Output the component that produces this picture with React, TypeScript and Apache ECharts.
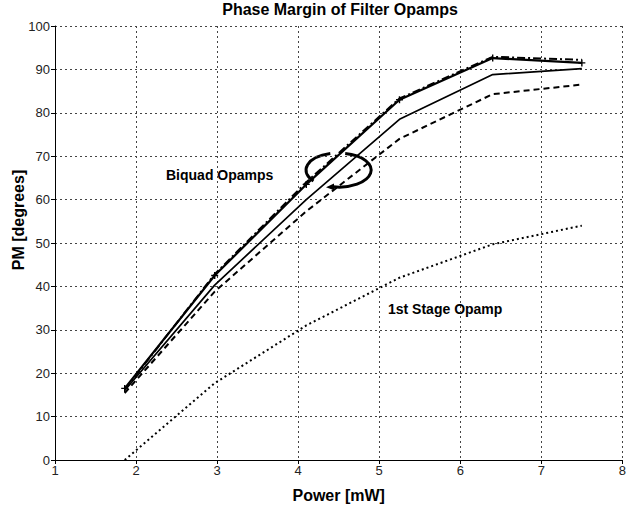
import React, { useEffect, useRef } from "react";
import * as echarts from "echarts";

// Power consumption [mW] at each simulated design point
const powerMW = [1.86, 2.97, 4.1, 5.25, 6.4, 7.5];

// Phase margin [degrees] of the biquad opamps and the first-stage opamp
const biquadTopMarked = [16.5, 42.5, 63.5, 83.0, 92.6, 91.5];
const biquadTopDashDot = [16.2, 42.8, 64.0, 83.3, 92.9, 92.2];
const biquadMid = [16.0, 40.3, 60.0, 78.5, 88.8, 90.2];
const biquadLow = [15.4, 38.8, 57.3, 74.0, 84.3, 86.5];
const firstStage = [0, 17.7, 31.0, 42.0, 49.7, 54.0];

const xTicks = { min: 1, max: 8, interval: 1 };
const yTicks = { min: 0, max: 100, interval: 10 };

const pairs = (ys: number[]) => powerMW.map((x, i) => [x, ys[i]]);

const FONT = "'Liberation Sans', Arial, sans-serif";

// Ellipse highlighting the biquad curves, split where the curves cross it
echarts.graphic.registerShape(
  "loopLeft",
  echarts.graphic.extendPath("M 330.3 153.5 A 32 17 0 0 0 313.5 180.9", {}) as any
);
echarts.graphic.registerShape(
  "loopRight",
  echarts.graphic.extendPath("M 345.2 153.4 A 32 17 0 0 1 333 186.8", {}) as any
);

export default function App() {
  const ref = useRef<HTMLDivElement>(null);

  useEffect(() => {
    document.body.style.margin = "0";
    const chart = echarts.init(ref.current!, null, { renderer: "svg" });

    const lineStyle = (type: any, width: number) => ({ color: "#000", width, type });

    chart.setOption({
      animation: false,
      backgroundColor: "#fff",
      title: {
        text: "Phase Margin of Filter Opamps",
        left: 340,
        textAlign: "center",
        top: 1,
        padding: 0,
        textStyle: { fontFamily: FONT, fontSize: 16, fontWeight: "bold", color: "#000" },
      },
      grid: { left: 55, right: 3, top: 26, bottom: 49 },
      xAxis: {
        type: "value",
        ...xTicks,
        name: "Power [mW]",
        nameLocation: "middle",
        nameGap: 27,
        nameTextStyle: { fontFamily: FONT, fontSize: 16, fontWeight: "bold", color: "#000" },
        axisLine: { lineStyle: { color: "#000", width: 1 } },
        axisTick: { show: true, length: 4, lineStyle: { color: "#000" } },
        axisLabel: { fontFamily: FONT, fontSize: 13, color: "#222", margin: 4 },
        splitLine: { show: true, lineStyle: { color: "#444", width: 1, type: [2, 3] } },
      },
      yAxis: {
        type: "value",
        ...yTicks,
        axisLine: { show: true, lineStyle: { color: "#000", width: 1 } },
        axisTick: { show: true, length: 4, lineStyle: { color: "#000" } },
        axisLabel: { fontFamily: FONT, fontSize: 13, color: "#222", margin: 5 },
        splitLine: { show: true, lineStyle: { color: "#444", width: 1, type: [2, 3] } },
      },
      series: [
        {
          type: "line",
          data: pairs(biquadTopMarked),
          symbol: "path://M4,0H6V4H10V6H6V10H4V6H0V4H4Z",
          symbolSize: 7,
          itemStyle: { color: "#000" },
          lineStyle: lineStyle("solid", 2.2),
        },
        {
          type: "line",
          data: pairs(biquadTopDashDot),
          symbol: "none",
          lineStyle: lineStyle([8, 3, 2, 3], 2),
        },
        {
          type: "line",
          data: pairs(biquadMid),
          symbol: "none",
          lineStyle: lineStyle("solid", 1.7),
        },
        {
          type: "line",
          data: pairs(biquadLow),
          symbol: "none",
          lineStyle: lineStyle([6, 4], 2),
        },
        {
          type: "line",
          data: pairs(firstStage),
          symbol: "none",
          lineStyle: lineStyle([2, 3], 2),
        },
      ],
      graphic: [
        {
          type: "text",
          x: 18,
          y: 220,
          rotation: Math.PI / 2,
          style: {
            text: "PM [degrees]",
            font: `bold 16px ${FONT}`,
            fill: "#000",
            align: "center",
            verticalAlign: "middle",
          },
        },
        {
          type: "text",
          x: 166,
          y: 175,
          style: {
            text: "Biquad Opamps",
            font: `bold 14px ${FONT}`,
            fill: "#000",
            verticalAlign: "middle",
          },
        },
        {
          type: "text",
          x: 388,
          y: 309,
          style: {
            text: "1st Stage Opamp",
            font: `bold 14px ${FONT}`,
            fill: "#000",
            verticalAlign: "middle",
          },
        },
        {
          type: "loopLeft",
          style: { fill: "none", stroke: "#000", lineWidth: 3 },
        },
        {
          type: "loopRight",
          style: { fill: "none", stroke: "#000", lineWidth: 3 },
        },
        {
          type: "polygon",
          shape: { points: [[326, 187.2], [334, 183.5], [334, 190.2]] },
          style: { fill: "#000" },
        },
      ],
    });

    return () => chart.dispose();
  }, []);

  return <div ref={ref} style={{ width: 629, height: 509 }} />;
}
